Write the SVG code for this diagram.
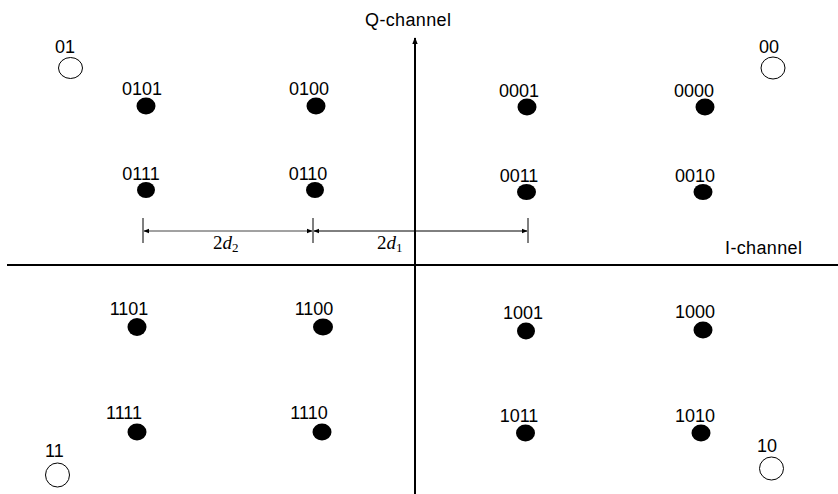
<svg xmlns="http://www.w3.org/2000/svg" width="838" height="494" viewBox="0 0 838 494">
<style>
text{font-family:"Liberation Sans",Arial,sans-serif;font-size:18px;fill:#000}
.lbl{text-anchor:middle}
.dot{fill:#000}
.ring{fill:#fff;stroke:#000;stroke-width:1}
.axis{stroke:#000;stroke-width:2;fill:none}
.dim{stroke:#000;stroke-width:1;fill:none}
.math{font-family:"Liberation Serif","Times New Roman",serif;font-size:19px}
</style>
<defs>
<marker id="ah" viewBox="0 0 10 10" refX="9" refY="5" markerWidth="6" markerHeight="6" orient="auto-start-reverse" markerUnits="userSpaceOnUse">
<path d="M0,1 L10,5 L0,9 z" fill="#000"/>
</marker>
<marker id="ax" viewBox="0 0 10 10" refX="9" refY="5" markerWidth="7" markerHeight="7" orient="auto" markerUnits="userSpaceOnUse">
<path d="M0,1 L10,5 L0,9 z" fill="#000"/>
</marker>
</defs>
<g id="connectors">
<line class="axis" x1="7" y1="265" x2="838" y2="265"/>
<line class="axis" x1="415" y1="494" x2="415" y2="38" marker-end="url(#ax)"/>
<line class="dim" x1="143" y1="218" x2="143" y2="243"/>
<line class="dim" x1="313" y1="218" x2="313" y2="243"/>
<line class="dim" x1="528" y1="218" x2="528" y2="243"/>
<line class="dim" x1="144" y1="231" x2="312" y2="231" marker-start="url(#ah)" marker-end="url(#ah)" style="stroke:#444"/>
<line class="dim" x1="314" y1="231" x2="527" y2="231" marker-start="url(#ah)" marker-end="url(#ah)"/>
</g>
<g id="axis-labels">
<text x="365" y="26" textLength="86">Q-channel</text>
<text x="725" y="254" textLength="77">I-channel</text>
<text class="math" x="213" y="249">2<tspan font-style="italic">d</tspan><tspan font-size="13" dy="3">2</tspan></text>
<text class="math" x="377" y="249">2<tspan font-style="italic">d</tspan><tspan font-size="13" dy="3">1</tspan></text>
</g>
<g id="n01"><ellipse class="ring" cx="70.5" cy="68" rx="12" ry="10.5"/><text x="55" y="53">01</text></g>
<g id="n00"><ellipse class="ring" cx="773" cy="68" rx="12" ry="11"/><text x="759" y="53">00</text></g>
<g id="n11"><ellipse class="ring" cx="57.5" cy="475" rx="12" ry="12"/><text x="45" y="457">11</text></g>
<g id="n10"><ellipse class="ring" cx="771.5" cy="468.5" rx="12" ry="11.5"/><text x="757" y="452">10</text></g>

<g id="n0101"><ellipse class="dot" cx="146" cy="106" rx="9.5" ry="8.5"/><text class="lbl" x="142" y="95">0101</text></g>
<g id="n0100"><ellipse class="dot" cx="316" cy="106" rx="9.5" ry="8.5"/><text class="lbl" x="309" y="95">0100</text></g>
<g id="n0001"><ellipse class="dot" cx="527" cy="107" rx="9.5" ry="8.5"/><text class="lbl" x="519" y="97">0001</text></g>
<g id="n0000"><ellipse class="dot" cx="705" cy="107" rx="9.5" ry="8.5"/><text class="lbl" x="694" y="97">0000</text></g>

<g id="n0111"><ellipse class="dot" cx="146" cy="190" rx="9" ry="8"/><text class="lbl" x="141" y="180">0111</text></g>
<g id="n0110"><ellipse class="dot" cx="315" cy="190" rx="9" ry="8"/><text class="lbl" x="308" y="180">0110</text></g>
<g id="n0011"><ellipse class="dot" cx="526.5" cy="192" rx="9.5" ry="8"/><text class="lbl" x="519" y="182">0011</text></g>
<g id="n0010"><ellipse class="dot" cx="703" cy="192" rx="9.5" ry="8"/><text class="lbl" x="695" y="182">0010</text></g>

<g id="n1101"><ellipse class="dot" cx="137" cy="327" rx="9.5" ry="9"/><text class="lbl" x="129" y="315">1101</text></g>
<g id="n1100"><ellipse class="dot" cx="323" cy="327" rx="10" ry="8.5"/><text class="lbl" x="314" y="315">1100</text></g>
<g id="n1001"><ellipse class="dot" cx="526" cy="331" rx="9" ry="8.5"/><text class="lbl" x="523" y="319">1001</text></g>
<g id="n1000"><ellipse class="dot" cx="703" cy="330" rx="9.5" ry="8.5"/><text class="lbl" x="695" y="318">1000</text></g>

<g id="n1111"><ellipse class="dot" cx="137" cy="432" rx="9.5" ry="8.5"/><text class="lbl" x="124" y="419">1111</text></g>
<g id="n1110"><ellipse class="dot" cx="322" cy="432" rx="9.5" ry="8.5"/><text class="lbl" x="309" y="419">1110</text></g>
<g id="n1011"><ellipse class="dot" cx="525.5" cy="433" rx="9.5" ry="8.5"/><text class="lbl" x="519" y="422">1011</text></g>
<g id="n1010"><ellipse class="dot" cx="701" cy="433" rx="9.5" ry="8.5"/><text class="lbl" x="695" y="422">1010</text></g>
</svg>
